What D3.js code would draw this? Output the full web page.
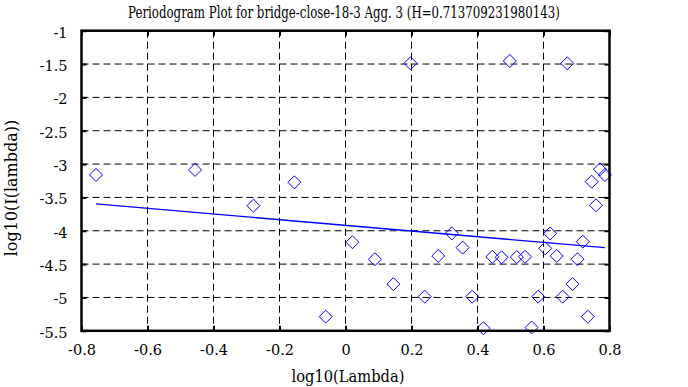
<!DOCTYPE html>
<html><head><meta charset="utf-8">
<script src="https://cdn.jsdelivr.net/npm/d3@7"></script>
<style>
html,body{margin:0;padding:0;background:#fff;}
svg text{font-family:'DejaVu Serif',serif !important;fill:#000;}
</style></head>
<body><svg id="c" width="688" height="387"></svg>
<script>
const title = "Periodogram Plot for bridge-close-18-3 Agg. 3 (H=0.713709231980143)";
const xLabel = "log10(Lambda)";
const yLabel = "log10(I(lambda))";
const xTicks = [-0.8,-0.6,-0.4,-0.2,0,0.2,0.4,0.6,0.8];
const xTickLabels = ["-0.8","-0.6","-0.4","-0.2","0","0.2","0.4","0.6","0.8"];
const yTicks = [-1,-1.5,-2,-2.5,-3,-3.5,-4,-4.5,-5,-5.5];
const yTickLabels = ["-1","-1.5","-2","-2.5","-3","-3.5","-4","-4.5","-5","-5.5"];
const pointX = [-0.756,-0.456,-0.279,-0.155,-0.060,0.021,0.089,0.145,0.197,0.240,0.281,0.322,0.355,0.384,0.418,0.445,0.473,0.498,0.519,0.544,0.564,0.584,0.605,0.620,0.640,0.658,0.672,0.688,0.703,0.719,0.734,0.746,0.759,0.771,0.786];
const pointY = [-3.163,-3.088,-3.624,-3.273,-5.288,-4.172,-4.427,-4.800,-1.489,-4.988,-4.378,-4.040,-4.253,-4.988,-5.462,-4.390,-4.398,-1.454,-4.395,-4.390,-5.450,-4.988,-4.263,-4.040,-4.378,-4.988,-1.489,-4.800,-4.427,-4.163,-5.288,-3.264,-3.618,-3.078,-3.163];
const fitX = [-0.756, 0.786];
const fitY = [-3.598, -4.253];

const svg = d3.select("#c");
const L = 81.5, R = 609.5, T = 30.7, B = 330.8;
const x = d3.scaleLinear().domain([-0.8,0.8]).range([L,R]);
const y = d3.scaleLinear().domain([-1,-5.5]).range([T,B]);

const g = svg.append("g");
g.selectAll(".vg").data(xTicks.slice(1,-1)).enter().append("line")
  .attr("x1",d=>x(d)).attr("x2",d=>x(d)).attr("y1",T).attr("y2",B)
  .attr("stroke","#000").attr("stroke-width",1).attr("stroke-dasharray","7,4");
g.selectAll(".hg").data(yTicks.slice(1,-1)).enter().append("line")
  .attr("y1",d=>y(d)).attr("y2",d=>y(d)).attr("x1",L).attr("x2",R)
  .attr("stroke","#000").attr("stroke-width",1).attr("stroke-dasharray","7,4");

svg.append("path").datum(fitX.map((v,i)=>[v,fitY[i]]))
  .attr("d", d3.line().x(d=>x(d[0])).y(d=>y(d[1])))
  .attr("stroke","#0000ff").attr("stroke-width",1.3).attr("fill","none");

const s = 6.5;
svg.selectAll(".pt").data(pointX.map((v,i)=>[v,pointY[i]])).enter().append("path")
  .attr("d", d=>{const cx=x(d[0]), cy=y(d[1]); return `M${cx},${cy-s}L${cx+s},${cy}L${cx},${cy+s}L${cx-s},${cy}Z`;})
  .attr("fill","none").attr("stroke","#0000ff").attr("stroke-width",1);

const tk = 5;
svg.append("g").attr("transform",`translate(0,${B})`)
  .call(d3.axisBottom(x).tickValues(xTicks).tickFormat((d,i)=>xTickLabels[i]).tickSizeInner(-tk).tickSizeOuter(0).tickPadding(14))
  .call(a=>{a.select(".domain").remove(); a.selectAll("line").attr("stroke-width",2);
    a.selectAll("text").attr("font-size",14.5).attr("fill","#000");});
svg.append("g").attr("transform",`translate(0,${T})`)
  .call(d3.axisTop(x).tickValues(xTicks).tickFormat("").tickSizeInner(-tk).tickSizeOuter(0))
  .call(a=>{a.select(".domain").remove(); a.selectAll("line").attr("stroke-width",2);});
svg.append("g").attr("transform",`translate(${L},0)`)
  .call(d3.axisLeft(y).tickValues(yTicks).tickFormat((d,i)=>yTickLabels[i]).tickSizeInner(-tk).tickSizeOuter(0).tickPadding(14))
  .call(a=>{a.select(".domain").remove(); a.selectAll("line").attr("stroke-width",2);
    a.selectAll("text").attr("font-size",14.5).attr("fill","#000").attr("dy","0.45em");});
svg.append("g").attr("transform",`translate(${R},0)`)
  .call(d3.axisRight(y).tickValues(yTicks).tickFormat("").tickSizeInner(-tk).tickSizeOuter(0))
  .call(a=>{a.select(".domain").remove(); a.selectAll("line").attr("stroke-width",2);});

svg.append("rect").attr("x",L).attr("y",T).attr("width",R-L).attr("height",B-T)
  .attr("fill","none").attr("stroke","#000").attr("stroke-width",2.5);

function fitted(txt, cx, cy, rot, target, fs){
  const t = svg.append("text").attr("text-anchor","middle").attr("font-size",fs).text(txt);
  const len = t.node().getComputedTextLength();
  const k = Math.min(1, target/len);
  t.attr("transform",`translate(${cx},${cy}) rotate(${rot}) scale(${k},1)`);
  return t;
}
fitted(title, 344, 18, 0, 432, 16);
fitted(xLabel, 348, 382, 0, 113, 16);
fitted(yLabel, 17, 188, -90, 138, 16);
</script></body></html>
